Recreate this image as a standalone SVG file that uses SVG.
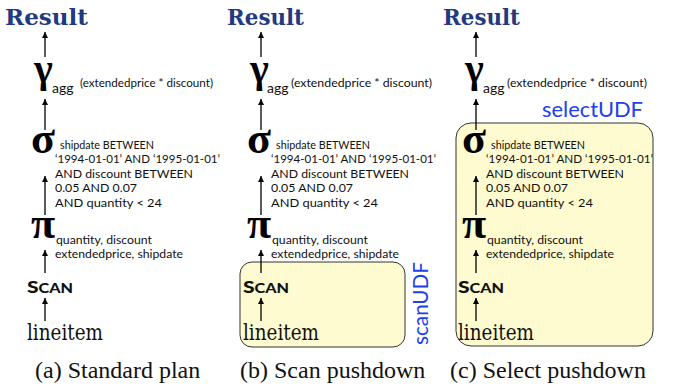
<svg xmlns="http://www.w3.org/2000/svg" width="673" height="387" viewBox="0 0 673 387">
  <style>
    .res { font-family: "DejaVu Serif", "Liberation Serif", serif; font-weight: bold; font-size: 23px; fill: #1f3a80; }
    .greek { font-family: "Liberation Serif", "DejaVu Serif", serif; font-weight: bold; fill: #000; }
    .sans { font-family: "Lato", "Open Sans", "Liberation Sans", sans-serif; font-size: 12px; fill: #111; }
    .sub { font-family: "Lato", "Open Sans", "Liberation Sans", sans-serif; font-size: 14px; fill: #111; }
    .scan { font-family: "Lato", "Open Sans", "Liberation Sans", sans-serif; font-weight: 900; fill: #111; }
    .tbl { font-family: "DejaVu Serif", "Liberation Serif", serif; font-size: 22px; fill: #111; }
    .cap { font-family: "Liberation Serif", "Times New Roman", serif; font-size: 24px; fill: #111; }
    .udf { font-family: "Lato", "Open Sans", "Liberation Sans", sans-serif; font-size: 21px; fill: #2040f0; }
    .box { fill: #fdfbcf; stroke: #333; stroke-width: 1; }
    .edge { stroke: #000; stroke-width: 1.3; fill: none; marker-end: url(#head); }
  </style>
  <defs>
    <marker id="head" markerUnits="userSpaceOnUse" markerWidth="8" markerHeight="8" refX="6" refY="3" orient="auto">
      <path d="M0,0 L6,3 L0,6 z" fill="#000"/>
    </marker>
  </defs>

  <!-- UDF regions (drawn first, behind operators) -->
  <g id="scanUDF">
    <rect class="box" x="240" y="262" width="165" height="85" rx="12"/>
    <text class="udf" x="0" y="0" transform="translate(428,303.5) rotate(-90)" text-anchor="middle" textLength="83" lengthAdjust="spacingAndGlyphs">scanUDF</text>
  </g>
  <g id="selectUDF">
    <rect class="box" x="456" y="123" width="197" height="223" rx="15"/>
    <text class="udf" x="542" y="117" textLength="101" lengthAdjust="spacingAndGlyphs">selectUDF</text>
  </g>

  <!-- (a) Standard plan -->
  <g id="a-result"><text class="res" x="5" y="25" textLength="83" lengthAdjust="spacingAndGlyphs">Result</text></g>
  <g id="a-agg">
    <text class="greek" x="34" y="82" font-size="40">γ</text>
    <text class="sub" x="52" y="93">agg</text>
    <text class="sans" x="80" y="87" textLength="133" lengthAdjust="spacingAndGlyphs">(extendedprice * discount)</text>
  </g>
  <g id="a-select">
    <text class="greek" x="31" y="153" font-size="44">σ</text>
    <text class="sans" x="60" y="148.5" textLength="94" lengthAdjust="spacingAndGlyphs">shipdate BETWEEN</text>
    <text class="sans" x="55" y="163" textLength="165" lengthAdjust="spacingAndGlyphs">‘1994-01-01’ AND ‘1995-01-01’</text>
    <text class="sans" x="55" y="177.5" textLength="138" lengthAdjust="spacingAndGlyphs">AND discount BETWEEN</text>
    <text class="sans" x="55" y="192" textLength="82" lengthAdjust="spacingAndGlyphs">0.05 AND 0.07</text>
    <text class="sans" x="55" y="206.5" textLength="107" lengthAdjust="spacingAndGlyphs">AND quantity &lt; 24</text>
  </g>
  <g id="a-project">
    <text class="greek" x="31" y="238" font-size="44">π</text>
    <text class="sans" x="56" y="243.5" textLength="96" lengthAdjust="spacingAndGlyphs">quantity, discount</text>
    <text class="sans" x="55" y="258" textLength="128" lengthAdjust="spacingAndGlyphs">extendedprice, shipdate</text>
  </g>
  <g id="a-scan"><text class="scan" x="27" y="293" textLength="46" lengthAdjust="spacingAndGlyphs"><tspan font-size="17">S</tspan><tspan font-size="13">CAN</tspan></text></g>
  <g id="a-lineitem"><text class="tbl" x="27" y="340" textLength="76" lengthAdjust="spacingAndGlyphs">lineitem</text></g>
  <g id="a-caption"><text class="cap" x="35" y="378">(a) Standard plan</text></g>

  <!-- (b) Scan pushdown -->
  <g id="b-result"><text class="res" x="227" y="25" textLength="77" lengthAdjust="spacingAndGlyphs">Result</text></g>
  <g id="b-agg">
    <text class="greek" x="250" y="82" font-size="40">γ</text>
    <text class="sub" x="267" y="93">agg</text>
    <text class="sans" x="291" y="87" textLength="141" lengthAdjust="spacingAndGlyphs">(extendedprice * discount)</text>
  </g>
  <g id="b-select">
    <text class="greek" x="247" y="153" font-size="44">σ</text>
    <text class="sans" x="276" y="148.5" textLength="94" lengthAdjust="spacingAndGlyphs">shipdate BETWEEN</text>
    <text class="sans" x="271" y="163" textLength="165" lengthAdjust="spacingAndGlyphs">‘1994-01-01’ AND ‘1995-01-01’</text>
    <text class="sans" x="271" y="177.5" textLength="138" lengthAdjust="spacingAndGlyphs">AND discount BETWEEN</text>
    <text class="sans" x="271" y="192" textLength="82" lengthAdjust="spacingAndGlyphs">0.05 AND 0.07</text>
    <text class="sans" x="271" y="206.5" textLength="107" lengthAdjust="spacingAndGlyphs">AND quantity &lt; 24</text>
  </g>
  <g id="b-project">
    <text class="greek" x="247" y="238" font-size="44">π</text>
    <text class="sans" x="272" y="243.5" textLength="96" lengthAdjust="spacingAndGlyphs">quantity, discount</text>
    <text class="sans" x="271" y="258" textLength="128" lengthAdjust="spacingAndGlyphs">extendedprice, shipdate</text>
  </g>
  <g id="b-scan"><text class="scan" x="243" y="293" textLength="46" lengthAdjust="spacingAndGlyphs"><tspan font-size="17">S</tspan><tspan font-size="13">CAN</tspan></text></g>
  <g id="b-lineitem"><text class="tbl" x="243" y="340" textLength="76" lengthAdjust="spacingAndGlyphs">lineitem</text></g>
  <g id="b-caption"><text class="cap" x="240" y="378">(b) Scan pushdown</text></g>

  <!-- (c) Select pushdown -->
  <g id="c-result"><text class="res" x="443" y="25" textLength="77" lengthAdjust="spacingAndGlyphs">Result</text></g>
  <g id="c-agg">
    <text class="greek" x="465" y="82" font-size="40">γ</text>
    <text class="sub" x="483" y="93">agg</text>
    <text class="sans" x="507" y="87" textLength="140" lengthAdjust="spacingAndGlyphs">(extendedprice * discount)</text>
  </g>
  <g id="c-select">
    <text class="greek" x="462" y="153" font-size="44">σ</text>
    <text class="sans" x="491" y="148.5" textLength="94" lengthAdjust="spacingAndGlyphs">shipdate BETWEEN</text>
    <text class="sans" x="486" y="163" textLength="167" lengthAdjust="spacingAndGlyphs">‘1994-01-01’ AND ‘1995-01-01’</text>
    <text class="sans" x="486" y="177.5" textLength="138" lengthAdjust="spacingAndGlyphs">AND discount BETWEEN</text>
    <text class="sans" x="486" y="192" textLength="82" lengthAdjust="spacingAndGlyphs">0.05 AND 0.07</text>
    <text class="sans" x="486" y="206.5" textLength="107" lengthAdjust="spacingAndGlyphs">AND quantity &lt; 24</text>
  </g>
  <g id="c-project">
    <text class="greek" x="462" y="238" font-size="44">π</text>
    <text class="sans" x="487" y="243.5" textLength="96" lengthAdjust="spacingAndGlyphs">quantity, discount</text>
    <text class="sans" x="486" y="258" textLength="128" lengthAdjust="spacingAndGlyphs">extendedprice, shipdate</text>
  </g>
  <g id="c-scan"><text class="scan" x="458" y="293" textLength="46" lengthAdjust="spacingAndGlyphs"><tspan font-size="17">S</tspan><tspan font-size="13">CAN</tspan></text></g>
  <g id="c-lineitem"><text class="tbl" x="458" y="340" textLength="76" lengthAdjust="spacingAndGlyphs">lineitem</text></g>
  <g id="c-caption"><text class="cap" x="450" y="378">(c) Select pushdown</text></g>

  <!-- data-flow edges, bottom to top -->
  <g id="connectors">
    <line class="edge" x1="45" y1="57" x2="45" y2="32"/>
    <line class="edge" x1="45" y1="130" x2="45" y2="99"/>
    <line class="edge" x1="45" y1="215" x2="45" y2="176"/>
    <line class="edge" x1="45" y1="273" x2="45" y2="250"/>
    <line class="edge" x1="45" y1="321" x2="45" y2="298"/>

    <line class="edge" x1="261" y1="57" x2="261" y2="32"/>
    <line class="edge" x1="261" y1="130" x2="261" y2="99"/>
    <line class="edge" x1="261" y1="215" x2="261" y2="176"/>
    <line class="edge" x1="261" y1="273" x2="261" y2="250"/>
    <line class="edge" x1="261" y1="321" x2="261" y2="298"/>

    <line class="edge" x1="476" y1="57" x2="476" y2="32"/>
    <line class="edge" x1="476" y1="130" x2="476" y2="99"/>
    <line class="edge" x1="476" y1="215" x2="476" y2="176"/>
    <line class="edge" x1="476" y1="273" x2="476" y2="250"/>
    <line class="edge" x1="476" y1="321" x2="476" y2="298"/>
  </g>
</svg>
